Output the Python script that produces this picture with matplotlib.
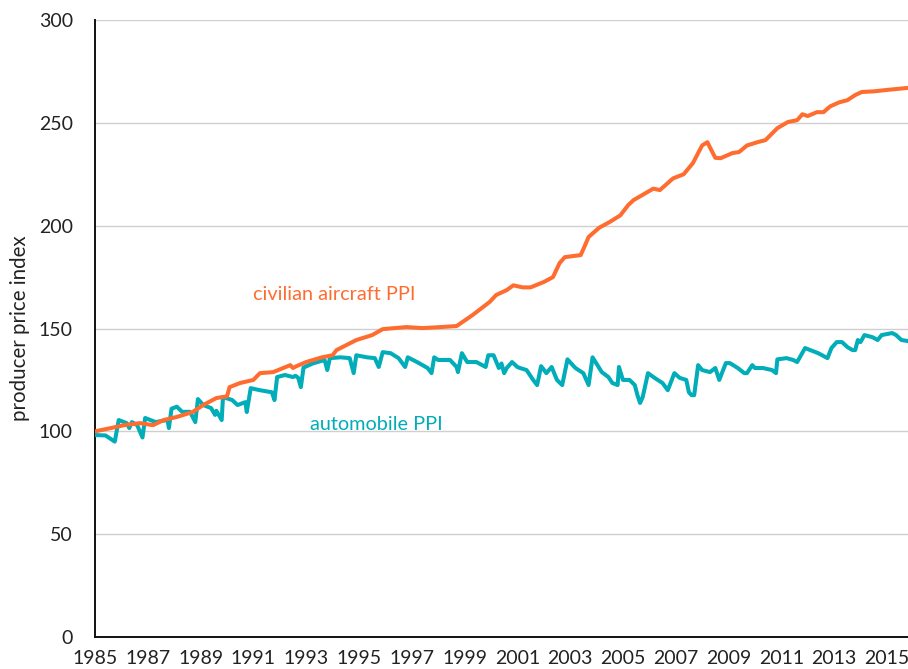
import matplotlib.pyplot as plt
import numpy as np

# valeurs (annee, indice)
aircraft_years = [1985.0, 1985.6, 1986.1, 1986.7, 1987.2, 1987.6, 1988.1, 1988.7, 1989.1, 1989.6,
                  1990.0, 1990.1, 1990.5, 1991.0, 1991.25, 1991.75, 1992.4, 1992.5, 1992.6, 1993.0,
                  1993.6, 1994.0, 1994.15, 1994.9, 1995.5, 1995.9, 1996.8, 1997.4, 1998.1, 1998.7,
                  1999.3, 1999.95, 2000.2, 2000.6, 2000.85, 2001.2, 2001.5, 2002.0, 2002.35, 2002.6,
                  2002.8, 2003.4, 2003.55, 2003.7, 2004.1, 2004.5, 2004.9, 2005.2, 2005.4, 2006.15,
                  2006.4, 2006.9, 2007.3, 2007.65, 2008.0, 2008.2, 2008.3, 2008.5, 2008.7, 2009.15,
                  2009.4, 2009.7, 2010.1, 2010.4, 2010.85, 2011.25, 2011.6, 2011.8, 2012.0, 2012.35,
                  2012.6, 2012.85, 2013.2, 2013.5, 2013.8, 2014.05, 2014.5, 2015.0, 2015.8]
aircraft_ppi = [100.0, 101.6, 103.0, 104.0, 103.0, 105.5, 107.0, 109.4, 112.8, 116.2,
                117.0, 121.5, 123.5, 125.0, 128.3, 128.8, 132.2, 130.8, 131.5, 133.7,
                136.0, 137.0, 139.5, 144.4, 146.8, 149.7, 150.7, 150.2, 150.7, 151.2,
                156.5, 162.9, 166.3, 168.7, 171.0, 170.0, 170.0, 172.6, 175.0, 181.8,
                184.7, 185.7, 190.0, 194.5, 199.0, 201.8, 205.0, 210.0, 212.4, 218.0,
                217.3, 223.0, 225.0, 230.4, 239.0, 240.6, 238.0, 233.0, 232.8, 235.3,
                235.8, 239.0, 240.6, 241.6, 247.4, 250.4, 251.3, 254.2, 253.3, 255.2,
                255.2, 258.0, 260.0, 261.0, 263.5, 265.0, 265.3, 266.0, 267.0]

auto_years = [1985.0, 1985.4, 1985.75, 1985.9, 1986.2, 1986.3, 1986.4, 1986.6, 1986.8, 1986.9,
              1987.3, 1987.5, 1987.75, 1987.8, 1987.9, 1988.1, 1988.3, 1988.6, 1988.8, 1988.9,
              1989.1, 1989.4, 1989.55, 1989.6, 1989.8, 1989.85, 1990.2, 1990.4, 1990.7, 1990.75,
              1990.9, 1991.25, 1991.7, 1991.8, 1991.9, 1992.2, 1992.5, 1992.6, 1992.7, 1992.8,
              1992.9, 1993.25, 1993.7, 1993.8, 1993.9, 1994.3, 1994.65, 1994.8, 1994.9, 1995.3,
              1995.6, 1995.75, 1995.9, 1996.2, 1996.5, 1996.75, 1996.85, 1997.2, 1997.6, 1997.75,
              1997.85, 1998.0, 1998.45, 1998.7, 1998.75, 1998.9, 1999.1, 1999.45, 1999.8, 1999.9,
              2000.1, 2000.3, 2000.4, 2000.5, 2000.6, 2000.8, 2001.0, 2001.1, 2001.35, 2001.6,
              2001.75, 2001.9, 2002.1, 2002.3, 2002.5, 2002.7, 2002.9, 2003.2, 2003.5, 2003.7,
              2003.85, 2004.2, 2004.45, 2004.6, 2004.8, 2004.85, 2005.0, 2005.25, 2005.45, 2005.55,
              2005.65, 2005.75, 2005.95, 2006.2, 2006.5, 2006.7, 2006.95, 2007.15, 2007.4, 2007.5,
              2007.6, 2007.7, 2007.85, 2008.0, 2008.3, 2008.5, 2008.65, 2008.9, 2009.05, 2009.35,
              2009.6, 2009.7, 2009.9, 2010.0, 2010.3, 2010.65, 2010.8, 2010.85, 2011.2, 2011.45,
              2011.6, 2011.7, 2011.9, 2012.1, 2012.4, 2012.75, 2012.9, 2013.1, 2013.3, 2013.5,
              2013.7, 2013.8, 2013.9, 2014.0, 2014.15, 2014.45, 2014.65, 2014.8, 2015.2, 2015.35,
              2015.55, 2015.8]
auto_ppi = [98.2, 98.0, 95.0, 105.5, 104.0, 101.6, 104.5, 103.0, 97.0, 106.5,
            104.5, 105.0, 105.5, 101.6, 111.0, 112.0, 109.5, 109.5, 104.5, 115.7,
            112.8, 111.3, 108.0, 110.0, 105.5, 116.7, 115.2, 112.8, 114.2, 109.4,
            121.0, 120.0, 119.0, 115.2, 126.4, 127.4, 126.4, 127.0, 126.0, 121.5,
            131.0, 133.0, 134.7, 129.8, 135.6, 136.0, 135.6, 128.3, 137.0, 136.0,
            135.6, 131.3, 138.5, 138.0, 135.6, 131.3, 136.0, 133.7, 130.8, 128.3,
            136.0, 134.7, 134.7, 131.3, 128.8, 138.0, 133.7, 133.7, 131.3, 137.0,
            137.0, 130.8, 133.0, 128.3, 130.8, 133.7, 131.3, 130.8, 129.8, 125.0,
            122.5, 131.7, 128.3, 131.3, 125.0, 122.5, 135.0, 130.8, 128.3, 122.5,
            136.0, 128.8, 126.4, 123.5, 122.5, 131.3, 125.0, 125.0, 122.5, 117.6,
            113.8, 116.7, 128.3, 126.0, 123.5, 120.0, 128.3, 126.0, 125.0, 119.0,
            117.6, 117.6, 132.2, 129.8, 128.8, 130.8, 125.0, 133.2, 133.2, 130.8,
            128.3, 128.3, 132.2, 130.8, 130.8, 129.8, 128.3, 135.0, 135.6, 134.7,
            133.7, 136.0, 140.5, 139.5, 138.0, 135.6, 140.5, 143.4, 143.4, 141.0,
            139.5, 139.5, 144.4, 143.4, 146.8, 145.8, 144.4, 146.8, 147.8, 146.8,
            144.4, 143.9]

year_ticks = list(range(1985, 2016, 2))
ppi_ticks = list(range(0, 301, 50))

orange = '#ff6c2f'
teal = '#00adb8'

plt.rcParams['font.family'] = ['Lato', 'DejaVu Sans']

fig = plt.figure(figsize=(9.08, 6.69), dpi=100)
ax = fig.add_axes([0.1046, 0.0478, 0.8954, 0.9223])

ax.plot(auto_years, auto_ppi, color=teal, lw=2.9, solid_joinstyle='round', zorder=3)
ax.plot(aircraft_years, aircraft_ppi, color=orange, lw=2.9, solid_joinstyle='round', zorder=4)

ax.text(1991.0, 166.5, 'civilian aircraft PPI', color=orange, fontsize=14.3, va='center')
ax.text(1993.15, 103.5, 'automobile PPI', color=teal, fontsize=14.3, va='center')

ax.set_xlim(1985, 2015.8)
ax.set_ylim(0, 300)
ax.set_xticks(year_ticks)
ax.set_yticks(ppi_ticks)
ax.tick_params(length=0, labelsize=14, colors='#222222')
ax.tick_params(axis='y', pad=16)
ax.tick_params(axis='x', pad=9)
ax.yaxis.grid(True, color='#cfcfcf', lw=1)
ax.set_axisbelow(True)
for s in ['top', 'right']:
    ax.spines[s].set_visible(False)
for s in ['left', 'bottom']:
    ax.spines[s].set_linewidth(1.4)
    ax.spines[s].set_color('#111111')
ax.set_ylabel('producer price index', fontsize=14.8, color='#222222', labelpad=6)

fig.savefig('out.png', dpi=100)
